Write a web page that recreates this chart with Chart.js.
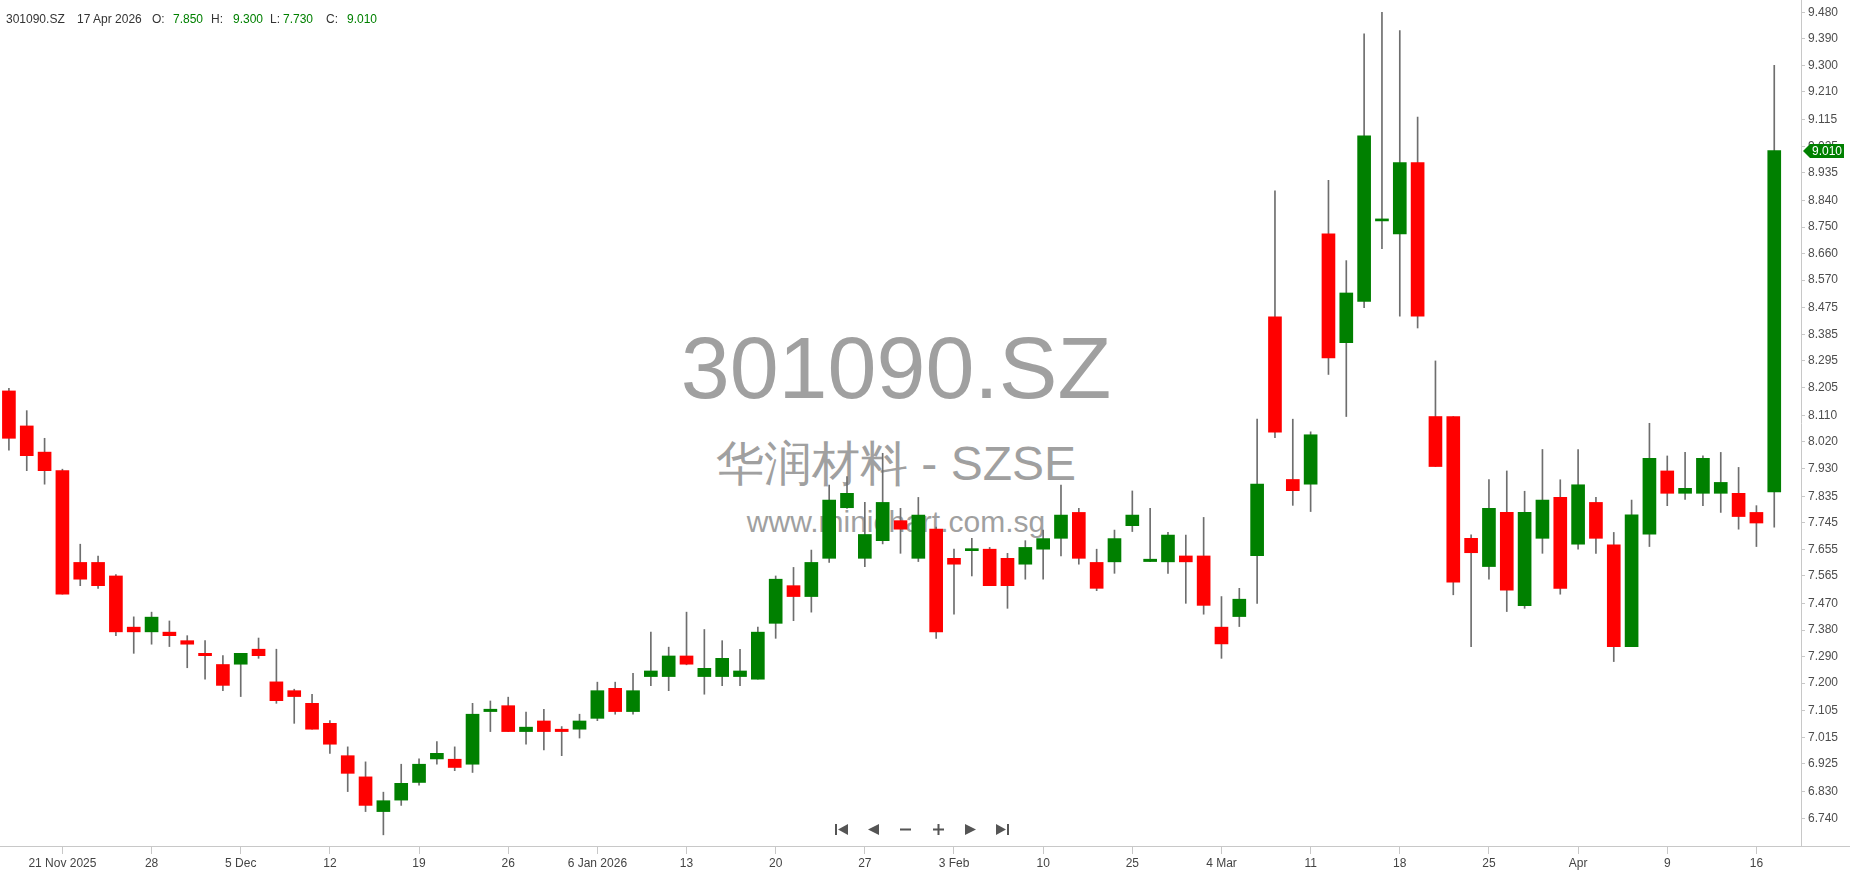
<!DOCTYPE html>
<html>
<head>
<meta charset="utf-8">
<title>301090.SZ</title>
<script src="https://cdn.jsdelivr.net/npm/chart.js@4.4.1/dist/chart.umd.min.js"></script>
<style>
  html, body { margin: 0; padding: 0; background: #fff; }
  #wrap { position: relative; width: 1850px; height: 874px; overflow: hidden; font-family: "Liberation Sans", Arial, sans-serif; }
  #mark { position: absolute; left: 0; top: 0; width: 1792px; height: 874px; color: #a0a0a0; z-index: 0; }
  #mark div { position: absolute; left: 0; width: 1792px; text-align: center; white-space: nowrap; }
  #chart { position: absolute; left: 0; top: 0; z-index: 1; }
  #head span { position: absolute; top: 12px; font-size: 12px; line-height: 14px; color: #333; white-space: nowrap; z-index: 2; }
  #head .v { color: #008000; }
</style>
</head>
<body>
<div id="wrap">
  <div id="mark">
    <div style="top:324px; font-size:88px; line-height:88px;">301090.SZ</div>
    <div style="top:440px; font-size:48px; line-height:48px;">华润材料 - SZSE</div>
    <div style="top:507px; font-size:30px; line-height:30px;">www.minichart.com.sg</div>
  </div>
  <canvas id="chart" width="1850" height="874"></canvas>
  <div id="head">
    <span style="left:6px">301090.SZ</span>
    <span style="left:77px">17 Apr 2026</span>
    <span style="left:152px">O:</span>
    <span class="v" style="left:173px">7.850</span>
    <span style="left:211px">H:</span>
    <span class="v" style="left:233px">9.300</span>
    <span style="left:270px">L:</span>
    <span class="v" style="left:283px">7.730</span>
    <span style="left:326px">C:</span>
    <span class="v" style="left:347px">9.010</span>
  </div>
</div>
<script>
// trading days shown on the chart
const dates = [
  '2025-11-18','2025-11-19','2025-11-20','2025-11-21','2025-11-24','2025-11-25','2025-11-26','2025-11-27','2025-11-28',
  '2025-12-01','2025-12-02','2025-12-03','2025-12-04','2025-12-05','2025-12-08','2025-12-09','2025-12-10','2025-12-11','2025-12-12',
  '2025-12-15','2025-12-16','2025-12-17','2025-12-18','2025-12-19','2025-12-22','2025-12-23','2025-12-24','2025-12-25','2025-12-26',
  '2025-12-29','2025-12-30','2025-12-31','2026-01-05','2026-01-06','2026-01-07','2026-01-08','2026-01-09','2026-01-12','2026-01-13',
  '2026-01-14','2026-01-15','2026-01-16','2026-01-19','2026-01-20','2026-01-21','2026-01-22','2026-01-23','2026-01-26','2026-01-27',
  '2026-01-28','2026-01-29','2026-01-30','2026-02-02','2026-02-03','2026-02-04','2026-02-05','2026-02-06','2026-02-09','2026-02-10',
  '2026-02-11','2026-02-12','2026-02-13','2026-02-24','2026-02-25','2026-02-26','2026-02-27','2026-03-02','2026-03-03','2026-03-04',
  '2026-03-05','2026-03-06','2026-03-09','2026-03-10','2026-03-11','2026-03-12','2026-03-13','2026-03-16','2026-03-17','2026-03-18',
  '2026-03-19','2026-03-20','2026-03-23','2026-03-24','2026-03-25','2026-03-26','2026-03-27','2026-03-30','2026-03-31','2026-04-01',
  '2026-04-02','2026-04-03','2026-04-07','2026-04-08','2026-04-09','2026-04-10','2026-04-13','2026-04-14','2026-04-15','2026-04-16',
  '2026-04-17'
];

const opens = [
  8.193, 8.074, 7.985, 7.922, 7.610, 7.610, 7.564, 7.390, 7.374, 7.373,
  7.344, 7.301, 7.263, 7.264, 7.315, 7.204, 7.174, 7.131, 7.063, 6.953,
  6.881, 6.763, 6.802, 6.862, 6.942, 6.941, 6.924, 7.103, 7.123, 7.035,
  7.071, 7.043, 7.043, 7.080, 7.182, 7.103, 7.222, 7.222, 7.292, 7.222,
  7.222, 7.222, 7.213, 7.403, 7.531, 7.494, 7.624, 7.796, 7.624, 7.684,
  7.752, 7.624, 7.723, 7.624, 7.650, 7.655, 7.624, 7.604, 7.655, 7.692,
  7.780, 7.610, 7.612, 7.735, 7.613, 7.612, 7.632, 7.632, 7.390, 7.426,
  7.633, 8.445, 7.892, 7.876, 8.727, 8.357, 8.497, 8.771, 8.727, 8.969,
  8.106, 8.106, 7.692, 7.596, 7.780, 7.463, 7.692, 7.831, 7.672, 7.814,
  7.670, 7.324, 7.706, 7.921, 7.845, 7.845, 7.845, 7.845, 7.780, 7.850
];
const highs = [
  8.202, 8.126, 8.032, 7.927, 7.672, 7.632, 7.569, 7.425, 7.441, 7.411,
  7.361, 7.344, 7.293, 7.301, 7.353, 7.315, 7.179, 7.162, 7.072, 6.983,
  6.932, 6.829, 6.924, 6.942, 7.001, 6.983, 7.131, 7.139, 7.152, 7.101,
  7.111, 7.052, 7.094, 7.203, 7.203, 7.233, 7.373, 7.322, 7.441, 7.382,
  7.344, 7.315, 7.390, 7.564, 7.593, 7.652, 7.873, 7.902, 7.814, 7.981,
  7.794, 7.831, 7.730, 7.655, 7.692, 7.661, 7.641, 7.684, 7.720, 7.873,
  7.794, 7.655, 7.720, 7.853, 7.794, 7.712, 7.703, 7.763, 7.494, 7.522,
  8.097, 8.873, 8.097, 8.054, 8.909, 8.636, 9.407, 9.480, 9.418, 9.124,
  8.295, 8.106, 7.704, 7.892, 7.921, 7.852, 7.994, 7.891, 7.994, 7.831,
  7.712, 7.822, 8.083, 7.972, 7.984, 7.972, 7.984, 7.933, 7.803, 9.300
];
const lows = [
  7.992, 7.922, 7.876, 7.502, 7.531, 7.522, 7.361, 7.301, 7.332, 7.324,
  7.252, 7.213, 7.174, 7.154, 7.284, 7.131, 7.063, 7.043, 6.961, 6.831,
  6.763, 6.684, 6.784, 6.853, 6.924, 6.902, 6.896, 7.035, 7.035, 6.992,
  6.973, 6.953, 7.013, 7.072, 7.094, 7.094, 7.191, 7.174, 7.262, 7.162,
  7.191, 7.191, 7.213, 7.352, 7.412, 7.441, 7.610, 7.794, 7.596, 7.673,
  7.641, 7.613, 7.352, 7.434, 7.564, 7.531, 7.454, 7.553, 7.553, 7.632,
  7.604, 7.514, 7.573, 7.715, 7.613, 7.573, 7.471, 7.434, 7.284, 7.392,
  7.471, 8.034, 7.804, 7.783, 8.249, 8.106, 8.476, 8.677, 8.447, 8.407,
  7.936, 7.500, 7.324, 7.553, 7.443, 7.454, 7.641, 7.502, 7.655, 7.641,
  7.273, 7.324, 7.664, 7.803, 7.824, 7.803, 7.780, 7.723, 7.664, 7.730
];
const closes = [
  8.032, 7.973, 7.922, 7.502, 7.553, 7.531, 7.374, 7.374, 7.424, 7.361,
  7.332, 7.293, 7.192, 7.301, 7.293, 7.140, 7.154, 7.043, 6.992, 6.893,
  6.784, 6.800, 6.859, 6.924, 6.961, 6.913, 7.094, 7.111, 7.035, 7.050,
  7.035, 7.035, 7.071, 7.174, 7.103, 7.174, 7.241, 7.292, 7.264, 7.250,
  7.284, 7.241, 7.373, 7.553, 7.494, 7.610, 7.822, 7.845, 7.705, 7.814,
  7.723, 7.771, 7.374, 7.604, 7.655, 7.531, 7.531, 7.661, 7.691, 7.771,
  7.624, 7.522, 7.691, 7.771, 7.621, 7.703, 7.612, 7.464, 7.333, 7.485,
  7.876, 8.053, 7.854, 8.044, 8.305, 8.526, 9.060, 8.777, 8.969, 8.447,
  7.936, 7.543, 7.643, 7.794, 7.516, 7.780, 7.822, 7.522, 7.874, 7.692,
  7.324, 7.772, 7.964, 7.845, 7.862, 7.964, 7.882, 7.766, 7.744, 9.010
];

// x-axis labels: which candle gets a label, and its text
const xTickIndex = [3, 8, 13, 18, 23, 28, 33, 38, 43, 48, 53, 58, 63, 68, 73, 78, 83, 88, 93, 98];
const xTickText = ['21 Nov 2025', '28', '5 Dec', '12', '19', '26', '6 Jan 2026', '13', '20', '27',
                   '3 Feb', '10', '25', '4 Mar', '11', '18', '25', 'Apr', '9', '16'];

// price axis labels
const yTicks = [9.480, 9.390, 9.300, 9.210, 9.115, 9.025, 8.935, 8.840, 8.750, 8.660, 8.570,
                8.475, 8.385, 8.295, 8.205, 8.110, 8.020, 7.930, 7.835, 7.745, 7.655, 7.565,
                7.470, 7.380, 7.290, 7.200, 7.105, 7.015, 6.925, 6.830, 6.740];

const upColor = '#008000';
const downColor = '#ff0000';
const axisColor = '#c8c8c8';
const fontFamily = '"Liberation Sans", Arial, sans-serif';

// one spare empty slot to the right of the last candle
const labels = dates.concat(['']);
const bodies = opens.map((o, i) => [o, closes[i]]);
const wicks = lows.map((l, i) => [l, highs[i]]);
const bodyColors = opens.map((o, i) => closes[i] >= o ? upColor : downColor);

// last price tag, full-width base line and the nav buttons
const extras = {
  id: 'extras',
  afterDraw(chart) {
    const ctx = chart.ctx;
    const area = chart.chartArea;
    ctx.save();

    ctx.strokeStyle = axisColor;
    ctx.lineWidth = 1;
    ctx.beginPath();
    ctx.moveTo(0, Math.round(area.bottom) + 0.5);
    ctx.lineTo(chart.width, Math.round(area.bottom) + 0.5);
    ctx.stroke();

    const last = closes[closes.length - 1];
    const py = Math.round(chart.scales.y.getPixelForValue(last));
    const x0 = Math.round(area.right) + 2;
    ctx.fillStyle = upColor;
    ctx.beginPath();
    ctx.moveTo(x0, py);
    ctx.lineTo(x0 + 7, py - 7);
    ctx.lineTo(x0 + 41, py - 7);
    ctx.lineTo(x0 + 41, py + 7);
    ctx.lineTo(x0 + 7, py + 7);
    ctx.closePath();
    ctx.fill();
    ctx.fillStyle = '#fff';
    ctx.font = '12px ' + fontFamily;
    ctx.textBaseline = 'middle';
    ctx.fillText(last.toFixed(3), x0 + 9, py + 1);

    // navigation buttons under the candles
    const tri = (xa, xb, cy) => {
      ctx.beginPath();
      ctx.moveTo(xa, cy - 5.5);
      ctx.lineTo(xa, cy + 5.5);
      ctx.lineTo(xb, cy);
      ctx.closePath();
      ctx.fill();
    };
    const cy = 829.5;
    ctx.fillStyle = '#555';
    ctx.fillRect(835, cy - 5.5, 2, 11);
    tri(848, 838, cy);
    tri(879, 868, cy);
    ctx.fillRect(900, cy - 1, 11, 2);
    ctx.fillRect(933, cy - 1, 11, 2);
    ctx.fillRect(937.5, cy - 5.5, 2, 11);
    tri(965, 976, cy);
    tri(996, 1006, cy);
    ctx.fillRect(1007, cy - 5.5, 2, 11);
    ctx.restore();
  }
};

new Chart(document.getElementById('chart'), {
  type: 'bar',
  data: {
    labels: labels,
    datasets: [
      {
        label: 'body',
        data: bodies,
        backgroundColor: bodyColors,
        borderWidth: 0,
        barThickness: 13,
        minBarLength: 2,
        grouped: false,
        order: 0
      },
      {
        label: 'wick',
        data: wicks,
        backgroundColor: '#6e6e6e',
        borderWidth: 0,
        barThickness: 1,
        grouped: false,
        order: 1
      }
    ]
  },
  options: {
    responsive: false,
    animation: false,
    devicePixelRatio: 1,
    layout: { padding: 0 },
    plugins: {
      legend: { display: false },
      tooltip: { enabled: false }
    },
    scales: {
      x: {
        type: 'category',
        offset: true,
        grid: { offset: false, drawOnChartArea: false, tickLength: 8, color: axisColor },
        border: { color: axisColor },
        ticks: {
          autoSkip: false,
          maxRotation: 0,
          padding: 2,
          color: '#444',
          font: { family: fontFamily, size: 12 },
          callback: (value) => xTickText[xTickIndex.indexOf(value)]
        },
        afterBuildTicks: (scale) => {
          scale.ticks = xTickIndex.map(v => ({ value: v }));
        },
        afterFit: (scale) => {
          scale.height = 28;
          scale.paddingLeft = 0;
          scale.paddingRight = 0;
        }
      },
      y: {
        type: 'linear',
        position: 'right',
        min: 6.646,
        max: 9.522,
        grid: { drawOnChartArea: false, tickLength: 4, color: axisColor },
        border: { color: axisColor },
        ticks: {
          padding: 3,
          color: '#4d4d4d',
          font: { family: fontFamily, size: 12 },
          callback: (value) => value.toFixed(3)
        },
        afterBuildTicks: (scale) => {
          scale.ticks = yTicks.map(v => ({ value: v }));
        },
        afterFit: (scale) => {
          scale.width = 49;
          scale.paddingTop = 0;
          scale.paddingBottom = 0;
        }
      }
    }
  },
  plugins: [extras]
});
</script>
</body>
</html>
